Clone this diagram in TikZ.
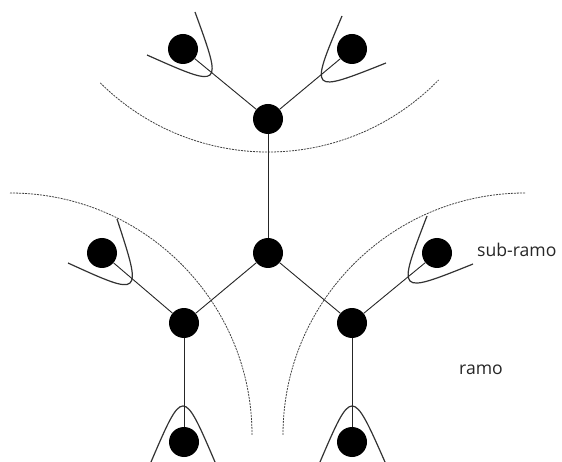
\documentclass[tikz,border=0pt]{standalone}
\usepackage{fontspec}
\setmainfont{Open Sans}
\begin{document}
\begin{tikzpicture}[x=1pt,y=-1pt,
  dot/.style={circle,fill=black,draw=none,minimum size=30pt,inner sep=0pt},
  link/.style={draw=black!85,line width=0.9pt},
  cup/.style={draw=black!80,line width=1.2pt},
  guide/.style={draw=black!75,line width=0.8pt,dash pattern=on 2pt off 1pt},
  lbl/.style={anchor=base west,inner sep=0pt,text=black!85,font=\fontsize{17.6}{20}\selectfont}]
\useasboundingbox (0,0) rectangle (562,462);

% dashed boundaries between the branches
\draw[guide] (100.3,82.9) arc[start angle=134.8,end angle=44.2,radius=238];
\draw[guide] (10,193) arc[start angle=-90,end angle=0,radius=242];
\draw[guide] (525,193) arc[start angle=-90,end angle=-180,radius=242];

% cups around the leaf nodes
\draw[cup] (195,12) .. controls (223,88.8) and (223,88.8) .. (147,55);
\draw[cup] (342,16) .. controls (309.3,93.5) and (309.3,93.5) .. (386,63);
\draw[cup] (117,219) .. controls (142.5,297) and (142.5,297) .. (68,263);
\draw[cup] (427,216) .. controls (396.7,294.7) and (396.7,294.7) .. (473,264);
\draw[cup] (151,462) .. controls (183,387.3) and (183,387.3) .. (215,462);
\draw[cup] (320,462) .. controls (352,387.3) and (352,387.3) .. (385,462);

% nodes
\node[dot] (top) at (268,119) {};
\node[dot] (tl)  at (183,49) {};
\node[dot] (tr)  at (352,49) {};
\node[dot] (mid) at (268,253) {};
\node[dot] (ll)  at (184,323) {};
\node[dot] (lr)  at (352,323) {};
\node[dot] (ml)  at (102,253) {};
\node[dot] (mr)  at (437,253) {};
\node[dot] (bl)  at (184,442) {};
\node[dot] (br)  at (352,442) {};

% connectors
\draw[link] (top) -- (tl);
\draw[link] (top) -- (tr);
\draw[link] (top) -- (mid);
\draw[link] (mid) -- (ll);
\draw[link] (mid) -- (lr);
\draw[link] (ll) -- (ml);
\draw[link] (lr) -- (mr);
\draw[link] (ll) -- (bl);
\draw[link] (lr) -- (br);

% labels
\node[lbl] (sub) at (477,257) {sub-ramo};
\node[lbl] (ram) at (459,374) {ramo};
\end{tikzpicture}
\end{document}
